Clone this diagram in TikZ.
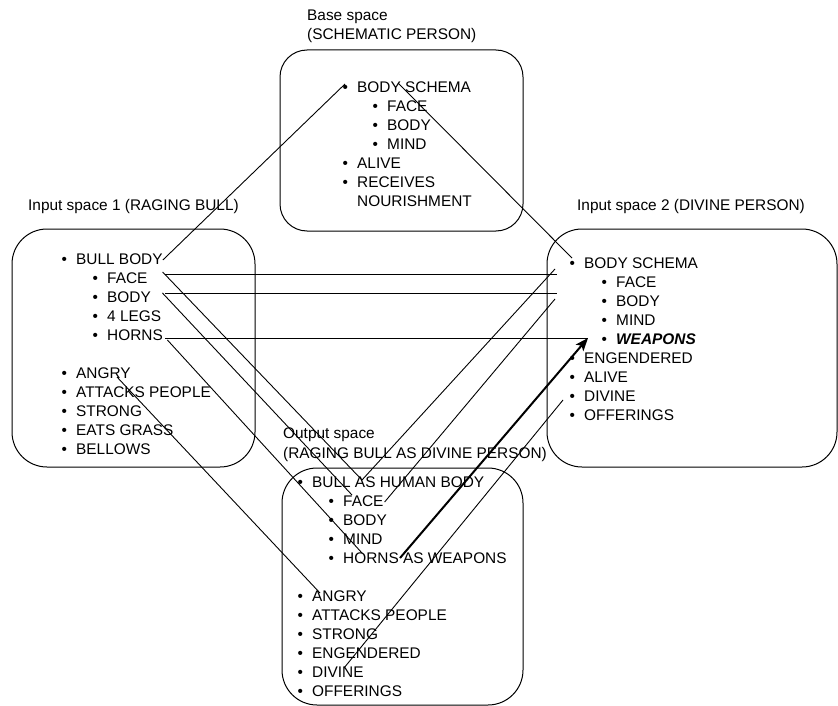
\documentclass[tikz,border=0pt]{standalone}
\usepackage{fontspec}
\setmainfont{Liberation Sans}
\usetikzlibrary{arrows.meta,calc}
\begin{document}
\begin{tikzpicture}[x=1pt,y=-1pt,
  every node/.style={font=\fontsize{15.4}{19}\selectfont},
  txt/.style={anchor=west, inner sep=0pt, text height=11pt, text depth=0pt},
  item/.style={txt, execute at begin node={\llap{\textbullet\hspace{9.3pt}}}},
  spacebox/.style={draw, line width=1pt, rounded corners=#1, inner sep=0pt},
  link/.style={line width=0.9pt},
  strong link/.style={line width=2pt, -{Stealth[length=13pt,width=10pt,inset=3pt]}}]
\useasboundingbox (0,0) rectangle (838,706);

% the four mental spaces
\node[spacebox=27pt, minimum width=243pt, minimum height=181pt] (basebox) at (401.5,140.5) {};
\node[spacebox=35pt, minimum width=243pt, minimum height=238pt] (i1box) at (133.5,348) {};
\node[spacebox=35pt, minimum width=290pt, minimum height=238pt] (i2box) at (692,348) {};
\node[spacebox=35pt, minimum width=241pt, minimum height=237pt] (obox) at (402.5,586.5) {};

% titles
\node[txt] (basetitle) at (307,15) {Base space};
\node[txt] (basesub) at (307,34) {(SCHEMATIC PERSON)};
\node[txt] (i1title) at (28,205) {Input space 1 (RAGING BULL)};
\node[txt] (i2title) at (577,205) {Input space 2 (DIVINE PERSON)};
\node[txt] (otitle) at (283,433) {Output space};
\node[txt] (osub) at (283,453) {(RAGING BULL AS DIVINE PERSON)};

% base space
\node[item] (bschema) at (357,87) {BODY SCHEMA};
\node[item] (bface) at (387,106) {FACE};
\node[item] (bbody) at (387,125) {BODY};
\node[item] (bmind) at (387,144) {MIND};
\node[item] (balive) at (357,163) {ALIVE};
\node[item] (brecv) at (357,182) {RECEIVES};
\node[txt] (bnour) at (357,201) {NOURISHMENT};

% input space 1
\node[item] (i1bull) at (76,259) {BULL BODY};
\node[item] (i1face) at (107,278) {FACE};
\node[item] (i1body) at (107,297) {BODY};
\node[item] (i1legs) at (107,316) {4 LEGS};
\node[item] (i1horns) at (107,335) {HORNS};
\node[item] (i1angry) at (76,373) {ANGRY};
\node[item] (i1attacks) at (76,392) {ATTACKS PEOPLE};
\node[item] (i1strong) at (76,411) {STRONG};
\node[item] (i1grass) at (76,430) {EATS GRASS};
\node[item] (i1bellows) at (76,449) {BELLOWS};

% input space 2
\node[item] (i2schema) at (584,263) {BODY SCHEMA};
\node[item] (i2face) at (616,282) {FACE};
\node[item] (i2body) at (616,301) {BODY};
\node[item] (i2mind) at (616,320) {MIND};
\node[item] (i2weapons) at (616,339) {\textbf{\textit{WEAPONS}}};
\node[item] (i2eng) at (584,358) {ENGENDERED};
\node[item] (i2alive) at (584,377) {ALIVE};
\node[item] (i2divine) at (584,396) {DIVINE};
\node[item] (i2offer) at (584,415) {OFFERINGS};

% output space
\node[item] (obull) at (312,482) {BULL AS HUMAN BODY};
\node[item] (oface) at (343,501) {FACE};
\node[item] (obody) at (343,520) {BODY};
\node[item] (omind) at (343,539) {MIND};
\node[item] (ohorns) at (343,558) {HORNS AS WEAPONS};
\node[item] (oangry) at (312,596) {ANGRY};
\node[item] (oattacks) at (312,615) {ATTACKS PEOPLE};
\node[item] (ostrong) at (312,634) {STRONG};
\node[item] (oeng) at (312,653) {ENGENDERED};
\node[item] (odivine) at (312,672) {DIVINE};
\node[item] (ooffer) at (312,691) {OFFERINGS};

% links to and from the base space
\draw[link] ($(i1bull.east)+(0,1)$) -- ($(bschema.west)+(-12,-3)$);
\draw[link] ($(bschema.west)+(41,-4)$) -- ($(i2schema.west)+(-12,-5)$);

% cross-space links between the inputs
\draw[link] ($(i1face.east)+(17,-4)$) -- ($(i2face.west)+(-59,-8)$);
\draw[link] ($(i1body.east)+(14.4,-4)$) -- ($(i2body.west)+(-59,-8)$);
\draw[link] ($(i1horns.east)+(2.4,3)$) -- ($(i2weapons.west)+(-28,-1)$);

% projections from input space 1 into the blend
\draw[link] ($(i1face.east)+(15,-6)$) -- ($(obull.west)+(50,-2)$);
\draw[link] ($(i1body.east)+(11.4,-4)$) -- ($(oface.west)+(9,-6)$);
\draw[link] ($(i1horns.east)+(4.4,5)$) -- ($(ohorns.west)+(19,-5)$);
\draw[link] ($(i1angry.west)+(41,4)$) -- ($(oangry.west)+(8,-3)$);

% projections from input space 2 into the blend
\draw[link] ($(obull.west)+(50,-2)$) -- ($(i2face.west)+(-61,-13)$);
\draw[link] ($(oface.east)+(1,1)$) -- ($(i2body.west)+(-61,-2)$);
\draw[link] ($(odivine.west)+(32,-4)$) -- ($(i2divine.west)+(-21,4)$);
\draw[strong link] ($(ohorns.west)+(57,0)$) -- ($(i2weapons.west)+(-28,-1)$);
\end{tikzpicture}
\end{document}
